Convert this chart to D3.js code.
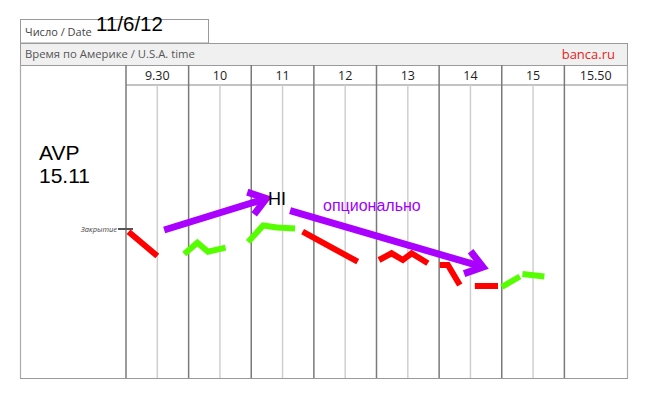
<!DOCTYPE html>
<html>
<head>
<meta charset="utf-8">
<script src="https://cdn.jsdelivr.net/npm/d3@7"></script>
<style>
  body { margin: 0; background: #fff; }
  svg { display: block; }
</style>
</head>
<body>
<svg id="chart"></svg>
<script>
// ====================
// DATA
// ====================
var columns = ["9.30", "10", "11", "12", "13", "14", "15", "15.50"];
var dateLabel = "11/6/12";
var ticker = ["AVP", "15.11"];

// x: position in column units (0 = start of "9.30"), y: move vs. close (close = 0)
var redSegments = [
  [[0.04, -0.27], [0.50, -2.7]],
  [[2.82, -0.27], [3.70, -3.27]],
  [[4.04, -3.1], [4.24, -2.43], [4.42, -3.1], [4.56, -2.43], [4.82, -3.43]],
  [[5.01, -3.6], [5.14, -3.6], [5.33, -5.6]],
  [[5.57, -5.7], [5.94, -5.7]]
];
var greenSegments = [
  [[0.93, -2.5], [1.14, -1.37], [1.31, -2.27], [1.59, -1.87]],
  [[1.95, -1.3], [2.19, 0.35], [2.41, 0.15], [2.70, 0.05]],
  [[6.0, -5.8], [6.29, -4.75]],
  [[6.33, -4.5], [6.68, -4.75]]
];
var arrows = [
  [[0.61, -0.1], [2.24, 3.05]],
  [[2.62, 1.83], [5.70, -3.8]]
];
var closeValue = 0;

// ####################################
// # SETUP
// ####################################
var width = 648, height = 397;
var svg = d3.select("#chart").attr("width", width).attr("height", height);

var left = 20, right = 627, plotLeft = 126, bottom = 378;
var bandTop = 43, headTop = 65, headBottom = 85;

var x = d3.scaleLinear().domain([0, columns.length]).range([plotLeft, right]);
var y = d3.scaleLinear().domain([0, 1]).range([229, 219]);
var band = d3.scaleBand().domain(columns).range([plotLeft, right]);

// ====================
// FRAME / HEADER
// ====================
svg.append("rect")
  .attr("x", left + 0.5).attr("y", 19.5)
  .attr("width", 188).attr("height", bandTop - 19.5)
  .attr("fill", "#fff").attr("stroke", "#9a9a9a");

svg.append("text")
  .attr("x", 25).attr("y", 36)
  .attr("font-family", "Open Sans, Noto Sans, sans-serif")
  .attr("font-size", "11px").attr("fill", "#444")
  .text("Число / Date");

svg.append("text")
  .attr("x", 96).attr("y", 31)
  .attr("font-family", "Liberation Sans, Arial, sans-serif")
  .attr("font-size", "20.5px").attr("fill", "#000")
  .text(dateLabel);

svg.append("rect")
  .attr("x", left + 0.5).attr("y", bandTop + 0.5)
  .attr("width", right - left).attr("height", headTop - bandTop)
  .attr("fill", "#f0f0f0").attr("stroke", "#9a9a9a");

svg.append("text")
  .attr("x", 25).attr("y", 58)
  .attr("font-family", "Open Sans, Noto Sans, sans-serif")
  .attr("font-size", "11.3px").attr("fill", "#555")
  .text("Время по Америке / U.S.A. time");

svg.append("text")
  .attr("x", 615).attr("y", 59)
  .attr("text-anchor", "end")
  .attr("font-family", "Open Sans, Noto Sans, sans-serif")
  .attr("font-size", "13px").attr("fill", "#e0261b")
  .text("banca.ru");

// outer frame sides + bottom
svg.append("line").attr("x1", left + 0.5).attr("x2", left + 0.5).attr("y1", headTop).attr("y2", bottom)
  .attr("stroke", "#aaa").attr("stroke-width", 1.2);
svg.append("line").attr("x1", right + 0.5).attr("x2", right + 0.5).attr("y1", headTop).attr("y2", bottom)
  .attr("stroke", "#aaa").attr("stroke-width", 1.2);
svg.append("line").attr("x1", left).attr("x2", right + 1).attr("y1", bottom + 0.5).attr("y2", bottom + 0.5)
  .attr("stroke", "#999").attr("stroke-width", 1.2);

// header row bottom line
svg.append("line").attr("x1", plotLeft).attr("x2", right).attr("y1", headBottom).attr("y2", headBottom)
  .attr("stroke", "#888").attr("stroke-width", 1.2);

// half-hour lines (not in last column)
svg.append("g").selectAll("line")
  .data(columns.slice(0, -1))
  .enter().append("line")
  .attr("x1", function (d) { return band(d) + band.bandwidth() / 2; })
  .attr("x2", function (d) { return band(d) + band.bandwidth() / 2; })
  .attr("y1", headBottom).attr("y2", bottom)
  .attr("stroke", "#cfcfcf").attr("stroke-width", 1.5);

// column lines
svg.append("g").selectAll("line")
  .data(columns)
  .enter().append("line")
  .attr("x1", function (d) { return band(d); })
  .attr("x2", function (d) { return band(d); })
  .attr("y1", headTop).attr("y2", bottom)
  .attr("stroke", "#7a7a7a").attr("stroke-width", 1.5);

// column labels
svg.append("g").selectAll("text")
  .data(columns)
  .enter().append("text")
  .attr("x", function (d) { return band(d) + band.bandwidth() / 2; })
  .attr("y", 80)
  .attr("text-anchor", "middle")
  .attr("font-family", "Open Sans, Noto Sans, sans-serif")
  .attr("font-size", "12.5px").attr("fill", "#222")
  .text(function (d) { return d; });

// ticker
svg.append("g").selectAll("text")
  .data(ticker)
  .enter().append("text")
  .attr("x", 39)
  .attr("y", function (d, i) { return 160 + i * 23; })
  .attr("font-family", "Liberation Sans, Arial, sans-serif")
  .attr("font-size", "21px").attr("fill", "#000")
  .text(function (d) { return d; });

// close marker
svg.append("line")
  .attr("x1", plotLeft - 8).attr("x2", plotLeft + 7)
  .attr("y1", y(closeValue)).attr("y2", y(closeValue))
  .attr("stroke", "#555").attr("stroke-width", 2);
svg.append("text")
  .attr("x", plotLeft - 9).attr("y", y(closeValue) + 2.5)
  .attr("text-anchor", "end")
  .attr("font-family", "Open Sans, Noto Sans, sans-serif")
  .attr("font-style", "italic")
  .attr("font-size", "7.5px").attr("fill", "#444")
  .text("Закрытие");

// ====================
// MOVES
// ====================
var line = d3.line()
  .x(function (d) { return x(d[0]); })
  .y(function (d) { return y(d[1]); });

svg.append("g").selectAll("path")
  .data(redSegments)
  .enter().append("path")
  .attr("d", line)
  .attr("fill", "none").attr("stroke", "#ff0000")
  .attr("stroke-width", 6).attr("stroke-linejoin", "miter");

svg.append("g").selectAll("path")
  .data(greenSegments)
  .enter().append("path")
  .attr("d", line)
  .attr("fill", "none").attr("stroke", "#55ff00")
  .attr("stroke-width", 6).attr("stroke-linejoin", "miter");

// arrows: shaft + open head
var arrowG = svg.append("g");
arrows.forEach(function (a) {
  var x0 = x(a[0][0]), y0 = y(a[0][1]), x1 = x(a[1][0]), y1 = y(a[1][1]);
  var ang = Math.atan2(y1 - y0, x1 - x0);
  var len = 20, spread = 0.62;
  var head = [
    [x1 + len * Math.cos(ang + Math.PI - spread), y1 + len * Math.sin(ang + Math.PI - spread)],
    [x1, y1],
    [x1 + len * Math.cos(ang + Math.PI + spread), y1 + len * Math.sin(ang + Math.PI + spread)]
  ];
  arrowG.append("line")
    .attr("x1", x0).attr("y1", y0).attr("x2", x1 - 3 * Math.cos(ang)).attr("y2", y1 - 3 * Math.sin(ang))
    .attr("stroke", "#aa00ff").attr("stroke-width", 7);
  arrowG.append("path")
    .attr("d", d3.line()(head))
    .attr("fill", "none").attr("stroke", "#aa00ff")
    .attr("stroke-width", 7).attr("stroke-linejoin", "miter");
});

svg.append("text")
  .attr("x", 268).attr("y", 205)
  .attr("font-family", "Liberation Sans, Arial, sans-serif")
  .attr("font-size", "18px").attr("fill", "#000")
  .text("HI");

svg.append("text")
  .attr("x", 323).attr("y", 211)
  .attr("font-family", "Liberation Sans, Arial, sans-serif")
  .attr("font-size", "16px").attr("fill", "#a000ff")
  .text("опционально");
</script>
</body>
</html>
